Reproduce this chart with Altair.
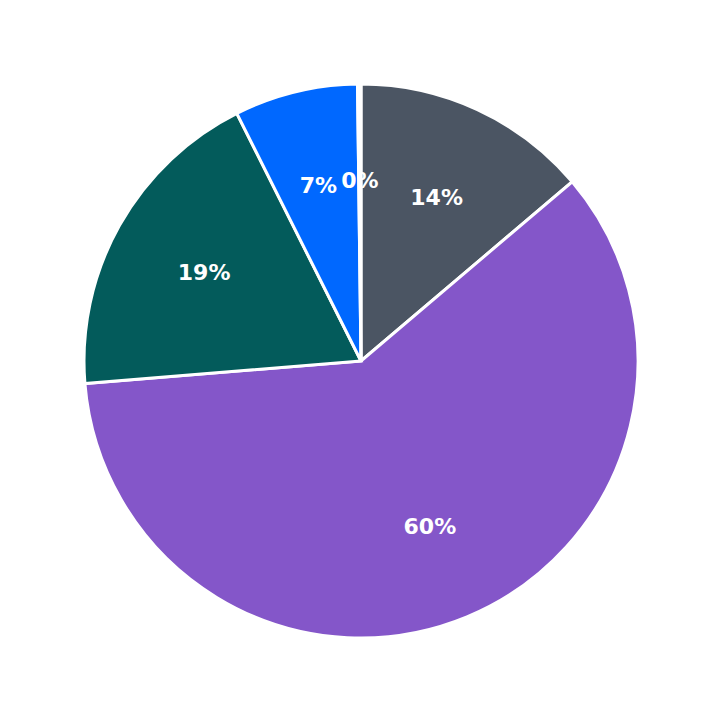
import altair as alt
import pandas as pd

categories = ["A", "B", "C", "D", "E"]
values = [13.8, 59.9, 18.9, 7.2, 0.2]
colors = ["#4b5563", "#8456c9", "#035b5b", "#0068ff", "#ffffff"]

df = pd.DataFrame({
    "category": categories,
    "value": values,
    "order": list(range(len(categories))),
})
total = sum(values)
df["label"] = [f"{round(v / total * 100)}%" for v in values]

base = alt.Chart(df).encode(
    theta=alt.Theta("value:Q", stack=True),
    order=alt.Order("order:Q"),
)

arcs = base.mark_arc(outerRadius=277, stroke="white", strokeWidth=3).encode(
    color=alt.Color("category:N",
                    scale=alt.Scale(domain=categories, range=colors),
                    legend=None)
)

text = base.mark_text(radius=180, fontSize=22, fontWeight="bold",
                      font="DejaVu Sans", color="white").encode(
    text="label:N"
)

chart = (arcs + text).properties(
    width=706, height=706, padding=0,
    autosize=alt.AutoSizeParams(type="none"),
).configure_view(stroke=None)

chart.save("out.html", embed_options={"renderer": "svg", "actions": False})
